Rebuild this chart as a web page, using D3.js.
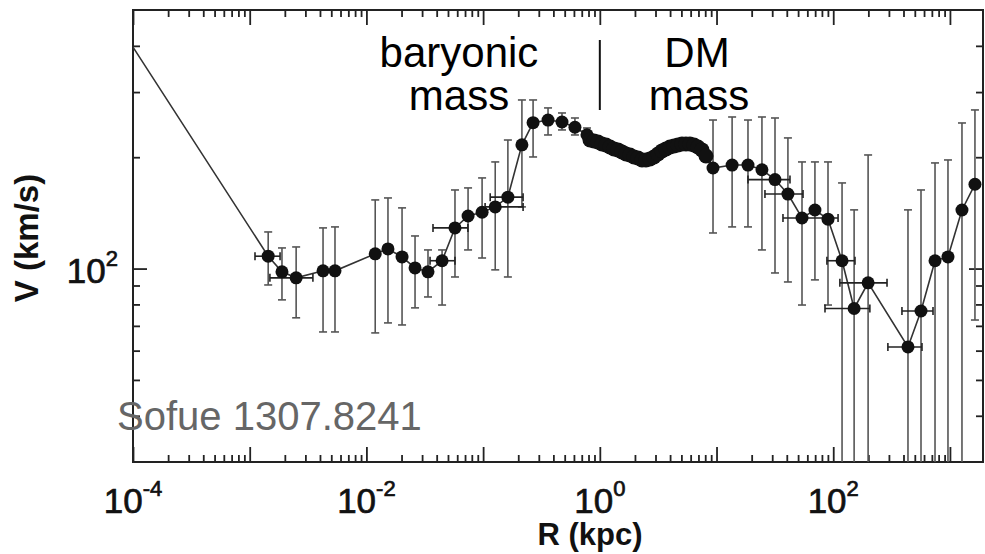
<!DOCTYPE html>
<html>
<head>
<meta charset="utf-8">
<script src="https://cdn.jsdelivr.net/npm/d3@7"></script>
<style>
  body { margin: 0; background: #fff; }
  svg { font-family: 'Liberation Sans', Arial, sans-serif; }
</style>
</head>
<body>
<div id="chart"></div>
<script>
// ---- data (R in kpc, V in km/s) ----
// inner part: black hole point, bulge, up to ~1 kpc
var innerR = [1e-4, 0.00144, 0.00189, 0.0025, 0.00425, 0.00538, 0.0119, 0.0153, 0.0202, 0.0261, 0.0337,
    0.0445, 0.0574, 0.0743, 0.098, 0.127, 0.163, 0.215, 0.268, 0.36, 0.474, 0.612, 0.776];
var innerV = [397, 108, 98, 94.4, 98.6, 98.6, 109.6, 113, 107.5, 100.4, 98,
    105, 128.8, 138.7, 142, 146.8, 156, 216, 248, 252, 249, 241, 230];
var innerVLo = [null, 90.3, 82.3, 73.6, 67.4, 67.4, 67, 71.3, 70.4, 78.3, 83.8,
    79.7, 94.9, 112.3, 106.8, 99.2, 94.9, 146.8, 200.3, 229.7, 237, 229.7, 219.9];
var innerVHi = [null, 125.6, 113.7, 114.4, 128.8, 129.6, 153.3, 155.2, 145.9, 122.5, 112.3,
    112.3, 163.1, 165.2, 175.8, 194.2, 222.6, 285.6, 285.6, 271.8, 263.4, 255.3, 239.9];
var innerRLo = [null, 0.00111, null, 0.00149, null, null, null, null, null, null, null,
    0.0351, 0.0372, null, null, 0.104, 0.115, null, null, null, null, null, null];
var innerRHi = [null, 0.00182, null, 0.00348, null, null, null, null, null, null, null,
    0.0574, 0.0741, null, null, 0.22, 0.22, null, null, null, null, null, null];

// disk: dense points forming the thick band
var bandR = [0.824, 0.891, 0.964, 1.043, 1.129, 1.222, 1.322, 1.431, 1.549, 1.676, 1.813, 1.963, 2.124, 2.298, 2.486,
    2.69, 2.91, 3.15, 3.41, 3.69, 3.99, 4.32, 4.67, 5.06, 5.47, 5.92, 6.41, 6.93, 7.5, 8.12];
var bandV = [222.6, 221.3, 219.9, 217.2, 215.8, 213.2, 210.6, 209.3, 206.7, 204.1, 202.8, 200.3, 199.1, 196.6, 196.6,
    197.8, 200.3, 204.1, 208, 210.6, 213.2, 214.5, 215.8, 217.2, 217.2, 217.2, 215.8, 213.2, 209.3, 201.6];

// outer disk + halo
var outerR = [9.33, 13.6, 18.6, 24.5, 31.7, 40.9, 54, 69.7, 90.2, 119, 151, 199, 437, 565, 745, 962, 1268, 1638];
var outerV = [187, 190.5, 190.5, 185, 174, 159, 137, 144, 136, 105, 78, 91.5, 61.4, 76.8, 105, 107.5, 144, 169];
var outerVLo = [124.8, 129.6, 129.6, 112.3, 97.3, 92, 79.7, 93.2, 79.7, 20, 20, 20, 20, 20, 20, 20, 20, 72.6];
var outerVHi = [252.1, 256.9, 252.1, 256.9, 255.3, 225.5, 194.2, 194.2, 194.2, 170.4, 144.1, 202.8, 144.1, 163.1, 193, 196.6, 247.5, 268.4];
var outerRLo = [null, null, null, null, 18.6, 26, 37.1, null, null, 88.3, 85, 114, 294, 388, null, null, null, null];
var outerRHi = [null, null, null, null, 42.6, 55.1, 110, null, null, 153.6, 206, 289, 576, 716, null, null, null, null];

// tick labels (exponents of 10)
var xLabelExp = [-4, -2, 0, 2];
var yLabelExp = [2];

// ---- chart setup ----
var svgWidth = 985;
var svgHeight = 554;
var margin = { top: 10, right: 2, bottom: 92, left: 133 };
var chartWidth = svgWidth - margin.left - margin.right;
var chartHeight = svgHeight - margin.top - margin.bottom;

var svg = d3.select('#chart')
    .append('svg')
    .attr('width', svgWidth)
    .attr('height', svgHeight);

var chartGroup = svg.append('g')
    .attr('transform', `translate(${margin.left}, ${margin.top})`);

var xScale = d3.scaleLog().domain([1e-4, 1920]).range([0, chartWidth]);
var yScale = d3.scaleLog().domain([30, 500]).range([chartHeight, 0]);

svg.append('clipPath').attr('id', 'plotClip')
    .append('rect').attr('width', chartWidth).attr('height', chartHeight);

// build point table from the arrays
function makePoints(rs, vs, vlo, vhi, rlo, rhi) {
    return rs.map(function(r, i) {
        return { r: r, v: vs[i],
            vlo: vlo ? vlo[i] : null, vhi: vhi ? vhi[i] : null,
            rlo: rlo ? rlo[i] : null, rhi: rhi ? rhi[i] : null };
    });
}
var inner = makePoints(innerR, innerV, innerVLo, innerVHi, innerRLo, innerRHi);
var band = makePoints(bandR, bandV);
var outer = makePoints(outerR, outerV, outerVLo, outerVHi, outerRLo, outerRHi);
var allPoints = inner.concat(band, outer);

// ---- ticks (inward, on all four sides) ----
var xMajor = d3.range(-4, 4).map(e => Math.pow(10, e));
var xMinor = [];
d3.range(-4, 4).forEach(function(e) {
    for (var k = 2; k <= 9; k++) {
        var t = k * Math.pow(10, e);
        if (t < 1920) xMinor.push(t);
    }
});
var yMajor = [100];
var yMinor = [40, 50, 60, 70, 80, 90, 200, 300, 400];

function drawTicks(axisFn, scale, values, size, transform) {
    chartGroup.append('g')
        .attr('transform', transform)
        .call(axisFn(scale).tickValues(values).tickSize(size).tickSizeOuter(0).tickFormat(''))
        .call(g => g.select('.domain').remove())
        .selectAll('line')
        .attr('stroke', '#222')
        .attr('stroke-width', 1.8);
}
drawTicks(d3.axisBottom, xScale, xMajor, -15, `translate(0, ${chartHeight})`);
drawTicks(d3.axisBottom, xScale, xMinor, -7, `translate(0, ${chartHeight})`);
drawTicks(d3.axisTop, xScale, xMajor, -15, 'translate(0, 0)');
drawTicks(d3.axisTop, xScale, xMinor, -7, 'translate(0, 0)');
drawTicks(d3.axisLeft, yScale, yMajor, -14, 'translate(0, 0)');
drawTicks(d3.axisLeft, yScale, yMinor, -7, 'translate(0, 0)');
drawTicks(d3.axisRight, yScale, yMajor, -14, `translate(${chartWidth}, 0)`);
drawTicks(d3.axisRight, yScale, yMinor, -7, `translate(${chartWidth}, 0)`);

// frame
chartGroup.append('rect')
    .attr('width', chartWidth)
    .attr('height', chartHeight)
    .attr('fill', 'none')
    .attr('stroke', '#222')
    .attr('stroke-width', 2);

// ---- data marks ----
var plot = chartGroup.append('g').attr('clip-path', 'url(#plotClip)');

// connecting line
var line = d3.line()
    .x(d => xScale(d.r))
    .y(d => yScale(d.v));

plot.append('path')
    .datum(allPoints)
    .attr('d', line)
    .attr('fill', 'none')
    .attr('stroke', '#333')
    .attr('stroke-width', 1.6);

// vertical error bars
var vErr = allPoints.filter(d => d.vlo != null);
var errG = plot.append('g')
    .attr('stroke', '#555')
    .attr('stroke-width', 1.6);

errG.selectAll('.vbar')
    .data(vErr)
    .enter()
    .append('line')
    .attr('x1', d => xScale(d.r))
    .attr('x2', d => xScale(d.r))
    .attr('y1', d => yScale(d.vlo))
    .attr('y2', d => yScale(d.vhi));

errG.selectAll('.vcapHi')
    .data(vErr)
    .enter()
    .append('line')
    .attr('x1', d => xScale(d.r) - 4)
    .attr('x2', d => xScale(d.r) + 4)
    .attr('y1', d => yScale(d.vhi))
    .attr('y2', d => yScale(d.vhi));

errG.selectAll('.vcapLo')
    .data(vErr)
    .enter()
    .append('line')
    .attr('x1', d => xScale(d.r) - 4)
    .attr('x2', d => xScale(d.r) + 4)
    .attr('y1', d => yScale(d.vlo))
    .attr('y2', d => yScale(d.vlo));

// horizontal error bars
var rErr = allPoints.filter(d => d.rlo != null);
errG.selectAll('.hbar')
    .data(rErr)
    .enter()
    .append('line')
    .attr('x1', d => xScale(d.rlo))
    .attr('x2', d => xScale(d.rhi))
    .attr('y1', d => yScale(d.v))
    .attr('y2', d => yScale(d.v))
    .attr('stroke', '#222');

errG.selectAll('.hcap')
    .data(rErr.flatMap(d => [{ r: d.rlo, v: d.v }, { r: d.rhi, v: d.v }]))
    .enter()
    .append('line')
    .attr('x1', d => xScale(d.r))
    .attr('x2', d => xScale(d.r))
    .attr('y1', d => yScale(d.v) - 4)
    .attr('y2', d => yScale(d.v) + 4)
    .attr('stroke', '#222');

// dots (first point sits on the axis and has no marker)
plot.selectAll('.dot')
    .data(allPoints.slice(1))
    .enter()
    .append('circle')
    .attr('cx', d => xScale(d.r))
    .attr('cy', d => yScale(d.v))
    .attr('r', d => bandR.includes(d.r) ? 7.5 : 6.5)
    .attr('fill', '#111');

// ---- tick labels ----
var xLabels = chartGroup.selectAll('.xlab')
    .data(xLabelExp)
    .enter()
    .append('text')
    .attr('x', e => xScale(Math.pow(10, e)))
    .attr('y', chartHeight + 51)
    .attr('text-anchor', 'middle')
    .attr('fill', '#111')
    .attr('stroke', '#111')
    .attr('stroke-width', 0.7)
    .attr('font-size', 35);
xLabels.append('tspan').text('10');
xLabels.append('tspan')
    .attr('dy', -17)
    .attr('font-size', 22)
    .text(e => e);

var yLabels = chartGroup.selectAll('.ylab')
    .data(yLabelExp)
    .enter()
    .append('text')
    .attr('x', -15)
    .attr('y', e => yScale(Math.pow(10, e)) + 14)
    .attr('text-anchor', 'end')
    .attr('fill', '#111')
    .attr('stroke', '#111')
    .attr('stroke-width', 0.7)
    .attr('font-size', 35);
yLabels.append('tspan').text('10');
yLabels.append('tspan')
    .attr('dy', -17)
    .attr('font-size', 22)
    .text(e => e);

// axis titles
svg.append('text')
    .attr('x', 590)
    .attr('y', 545)
    .attr('text-anchor', 'middle')
    .attr('font-size', 31)
    .attr('font-weight', 'bold')
    .attr('fill', '#111')
    .text('R (kpc)');

svg.append('text')
    .attr('transform', 'translate(38, 238) rotate(-90)')
    .attr('text-anchor', 'middle')
    .attr('font-size', 33)
    .attr('font-weight', 'bold')
    .attr('fill', '#111')
    .text('V (km/s)');

// ---- annotations ----
svg.append('text')
    .attr('x', 459).attr('y', 67)
    .attr('text-anchor', 'middle')
    .attr('font-size', 42)
    .text('baryonic');
svg.append('text')
    .attr('x', 459).attr('y', 110)
    .attr('text-anchor', 'middle')
    .attr('font-size', 42)
    .text('mass');
svg.append('text')
    .attr('x', 697).attr('y', 67)
    .attr('text-anchor', 'middle')
    .attr('font-size', 42)
    .text('DM');
svg.append('text')
    .attr('x', 699).attr('y', 110)
    .attr('text-anchor', 'middle')
    .attr('font-size', 42)
    .text('mass');

chartGroup.append('line')
    .attr('x1', xScale(1)).attr('x2', xScale(1))
    .attr('y1', 30).attr('y2', 100)
    .attr('stroke', '#111')
    .attr('stroke-width', 2);

svg.append('text')
    .attr('x', 117).attr('y', 430)
    .attr('font-size', 40)
    .attr('fill', '#666')
    .text('Sofue 1307.8241');
</script>
</body>
</html>
